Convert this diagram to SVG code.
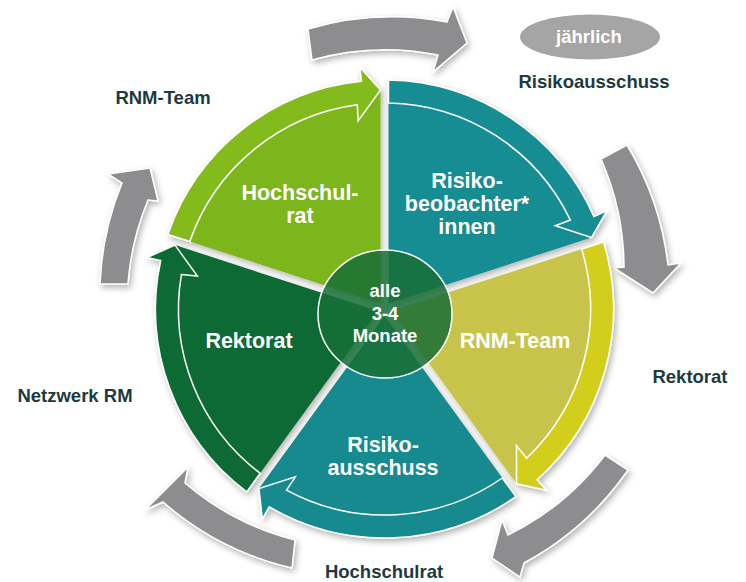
<svg xmlns="http://www.w3.org/2000/svg" width="746" height="582" viewBox="0 0 746 582">
  <defs>
    <filter id="sh" x="-20%" y="-20%" width="140%" height="140%">
      <feDropShadow dx="2" dy="3" stdDeviation="3" flood-color="#000" flood-opacity="0.3"/>
    </filter>
    <style>
      .gray { fill: #8d8d8f; stroke: #ffffff; stroke-width: 1.5; stroke-linejoin: miter; filter: url(#sh); }
      .band { stroke: #ffffff; stroke-width: 1.5; stroke-linejoin: miter; }
      .lbl { font-family: "Liberation Sans", Arial, sans-serif; font-weight: bold; font-size: 18.5px; fill: #1d3a40; text-anchor: middle; }
      .in { font-family: "Liberation Sans", Arial, sans-serif; font-weight: bold; font-size: 21.5px; fill: #ffffff; text-anchor: middle; }
      .ctr { font-family: "Liberation Sans", Arial, sans-serif; font-weight: bold; font-size: 18.5px; fill: #ffffff; text-anchor: middle; }
    </style>
  </defs>
  <rect width="746" height="582" fill="#ffffff"/>

  <g id="connectors">
    <path class="gray" d="M 308,29 A 300 300 0 0 1 447,22 L 453,7 L 467,43 L 433,72 L 438,55 A 270 270 0 0 0 312,60 Z"/>
    <path class="gray" d="M 627,145 A 300 300 0 0 1 668,265 L 681,263 L 653,293 L 614,268 L 624,267 A 270 270 0 0 0 601,159 Z"/>
    <path class="gray" d="M 628,470 A 300 300 0 0 1 524,563 L 520,577 L 492,558 L 502,520 L 508,535 A 270 270 0 0 0 605,455 Z"/>
    <path class="gray" d="M 295,540 A 270 270 0 0 1 185,483 L 188,467 L 145,510 L 163,502 A 300 300 0 0 0 292,568 Z"/>
    <path class="gray" d="M 100,284 A 300 300 0 0 1 122,183 L 108,174 L 150,168 L 158,201 L 148,200 A 270 270 0 0 0 128,284 Z"/>
  </g>

  <g id="sector-hochschulrat" filter="url(#sh)">
    <path fill="#7db51e" d="M 380.5,303.5 L 177.5,237.5 A 219 219 0 0 1 380.5,90 Z"/>
    <path class="band" fill="#83ba1e" d="M 189.8,241.5 L 167.9,234.4 A 229 229 0 0 1 361.4,81.2 L 359.9,67.2 L 380.5,90 L 358.1,120.9 L 357.3,104.8 A 206 206 0 0 0 189.8,241.5 Z"/>
  </g>
  <g id="sector-risikobeobachter" filter="url(#sh)">
    <path fill="#178c93" d="M 388.5,303.5 L 388.5,90 A 219 219 0 0 1 591.5,237.5 Z"/>
    <path class="band" fill="#178c93" d="M 388.5,103 L 388.5,80 A 229 229 0 0 1 594.0,216.6 L 606.8,210.9 L 591.5,237.5 L 555.3,225.7 L 570.3,220.0 A 206 206 0 0 0 388.5,103 Z"/>
  </g>
  <g id="sector-rnm-team" filter="url(#sh)">
    <path fill="#c8c44c" d="M 391.0,311.1 L 594.0,245.1 A 219 219 0 0 1 516.5,483.8 Z"/>
    <path class="band" fill="#d3ce1f" d="M 581.7,249.1 L 603.5,242.0 A 229 229 0 0 1 537.1,479.7 L 546.5,490.2 L 516.5,483.8 L 516.5,445.7 L 526.6,458.2 A 206 206 0 0 0 581.7,249.1 Z"/>
  </g>
  <g id="sector-risikoausschuss" filter="url(#sh)">
    <path fill="#158a8f" d="M 384.5,315.8 L 510.0,488.5 A 219 219 0 0 1 259.0,488.5 Z"/>
    <path class="band" fill="#158a8f" d="M 502.3,478.0 L 515.9,496.6 A 229 229 0 0 1 269.3,506.9 L 262.3,519.0 L 259.0,488.5 L 295.3,476.8 L 286.5,490.2 A 206 206 0 0 0 502.3,478.0 Z"/>
  </g>
  <g id="sector-rektorat" filter="url(#sh)">
    <path fill="#106a34" d="M 378.0,311.1 L 252.5,483.8 A 219 219 0 0 1 175.0,245.1 Z"/>
    <path class="band" fill="#106a34" d="M 260.2,473.3 L 246.7,491.9 A 229 229 0 0 1 160.7,260.6 L 147.0,257.6 L 175.0,245.1 L 197.4,276.0 L 181.4,274.6 A 206 206 0 0 0 260.2,473.3 Z"/>
  </g>

  <g id="center">
    <ellipse cx="385" cy="314" rx="67" ry="64" fill="#176f35" fill-opacity="0.85" stroke="#ffffff" stroke-width="1.5"/>
    <text class="ctr" x="385" y="297">alle</text>
    <text class="ctr" x="385" y="320">3-4</text>
    <text class="ctr" x="385" y="342">Monate</text>
  </g>

  <g id="label-hochschulrat-inner">
    <text class="in" x="300" y="200">Hochschul-</text>
    <text class="in" x="300" y="223">rat</text>
  </g>
  <g id="label-risikobeobachter-inner">
    <text class="in" x="467" y="188">Risiko-</text>
    <text class="in" x="467" y="211">beobachter*</text>
    <text class="in" x="467" y="234">innen</text>
  </g>
  <g id="label-rnm-inner">
    <text class="in" x="515" y="348">RNM-Team</text>
  </g>
  <g id="label-risikoausschuss-inner">
    <text class="in" x="383" y="452">Risiko-</text>
    <text class="in" x="383" y="475">ausschuss</text>
  </g>
  <g id="label-rektorat-inner">
    <text class="in" x="249" y="348">Rektorat</text>
  </g>

  <g id="jaehrlich">
    <ellipse cx="590" cy="37" rx="70" ry="22.5" fill="#a5a5a5"/>
    <text class="ctr" x="589" y="43">jährlich</text>
  </g>
  <g id="label-risikoausschuss"><text class="lbl" x="594" y="88">Risikoausschuss</text></g>
  <g id="label-rnm-team"><text class="lbl" x="163" y="104">RNM-Team</text></g>
  <g id="label-rektorat"><text class="lbl" x="690" y="383">Rektorat</text></g>
  <g id="label-netzwerk"><text class="lbl" x="75" y="402">Netzwerk RM</text></g>
  <g id="label-hochschulrat"><text class="lbl" x="384" y="578">Hochschulrat</text></g>
</svg>
